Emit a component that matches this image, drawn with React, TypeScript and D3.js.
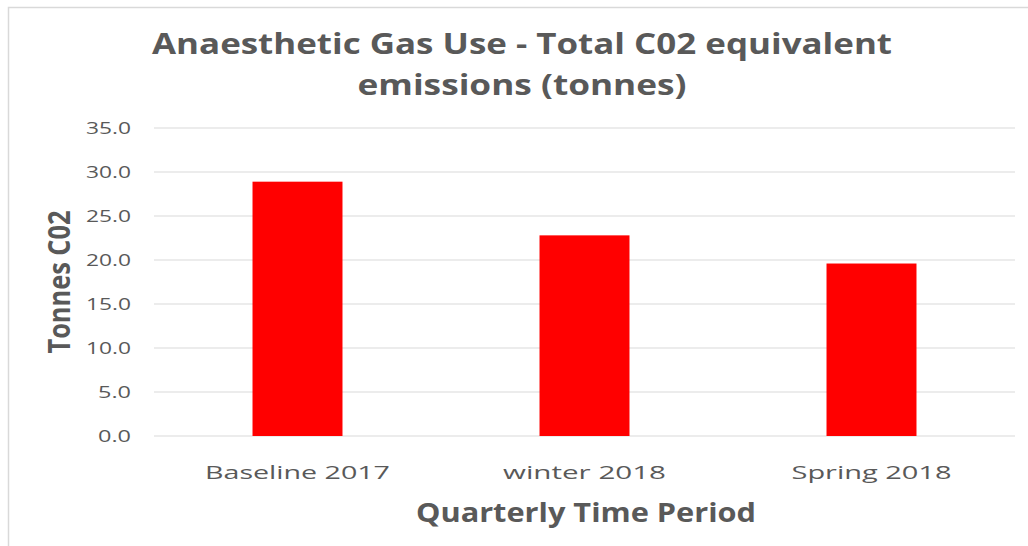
import React from "react";
import * as d3 from "d3";

const categories = ["Baseline 2017", "winter 2018", "Spring 2018"];
const values = [28.9, 22.8, 19.6];
const yTicks = [0, 5, 10, 15, 20, 25, 30, 35];
const titleLines = ["Anaesthetic Gas Use - Total C02 equivalent", "emissions (tonnes)"];
const xTitle = "Quarterly Time Period";
const yTitle = "Tonnes C02";

const W = 1028;
const H = 546;
const plot = { left: 154, right: 1015, top: 128, bottom: 436 };
const textColor = "#595959";
const font = "'Open Sans', 'Noto Sans', sans-serif";
const catWidths = [185, 163, 160];

export default function App() {
  const x = d3.scaleBand<string>().domain(categories).range([plot.left, plot.right]).padding(0);
  const y = d3.scaleLinear().domain([0, 35]).range([plot.bottom, plot.top]);
  const barW = x.bandwidth() * 0.3135;

  return (
    <svg width={W} height={H} style={{ position: "absolute", left: 0, top: 0, background: "#fff" }}>
      <rect x={8.5} y={7.5} width={W + 20} height={H + 20} fill="#fff" stroke="#d9d9d9" strokeWidth={1.5} />
      {titleLines.map((t, i) => (
        <text
          key={t}
          x={522}
          y={i === 0 ? 54 : 95}
          textAnchor="middle"
          fontFamily={font}
          fontWeight={700}
          fontSize={28}
          fill={textColor}
          textLength={i === 0 ? 740 : 329}
          lengthAdjust="spacingAndGlyphs"
        >
          {t}
        </text>
      ))}
      {yTicks.map((t) => (
        <g key={t}>
          <line x1={plot.left} x2={plot.right} y1={y(t)} y2={y(t)} stroke="#d9d9d9" strokeWidth={1.2} />
          <text
            x={131}
            y={y(t)}
            dy="0.35em"
            textAnchor="end"
            fontFamily={font}
            fontSize={17}
            fill={textColor}
            textLength={t >= 10 ? 45 : 33}
            lengthAdjust="spacingAndGlyphs"
          >
            {t.toFixed(1)}
          </text>
        </g>
      ))}
      {categories.map((c, i) => {
        const cx = (x(c) as number) + x.bandwidth() / 2;
        return (
          <g key={c}>
            <rect x={cx - barW / 2} y={y(values[i])} width={barW} height={y(0) - y(values[i])} fill="#ff0000" />
            <text
              x={cx}
              y={479}
              textAnchor="middle"
              fontFamily={font}
              fontSize={19}
              fill={textColor}
              textLength={catWidths[i]}
              lengthAdjust="spacingAndGlyphs"
            >
              {c}
            </text>
          </g>
        );
      })}
      <text
        x={586}
        y={495 + 27}
        textAnchor="middle"
        fontFamily={font}
        fontWeight={700}
        fontSize={27}
        fill={textColor}
        textLength={340}
        lengthAdjust="spacingAndGlyphs"
      >
        {xTitle}
      </text>
      <text
        transform={`translate(70, ${(plot.top + plot.bottom) / 2}) scale(1.15, 1) rotate(-90)`}
        textAnchor="middle"
        fontFamily={font}
        fontWeight={700}
        fontSize={27}
        fill={textColor}
        textLength={143}
        lengthAdjust="spacingAndGlyphs"
      >
        {yTitle}
      </text>
    </svg>
  );
}
